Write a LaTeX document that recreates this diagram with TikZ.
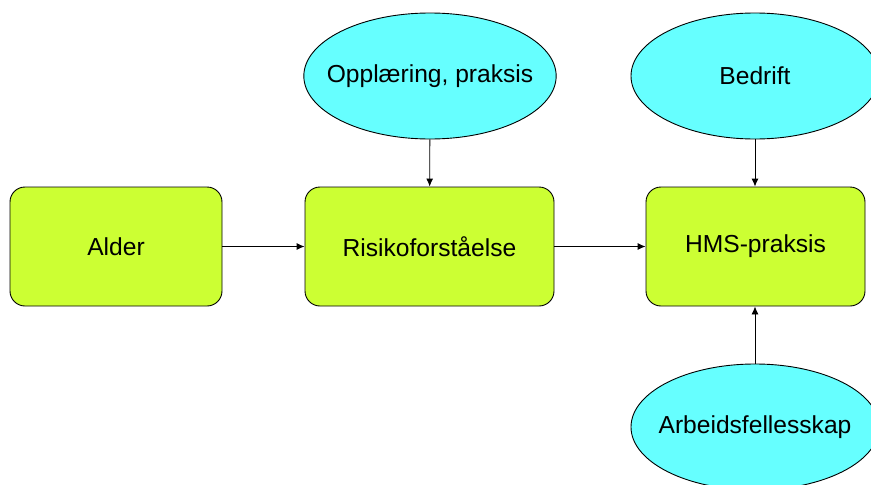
\documentclass[tikz,border=0pt]{standalone}
\usepackage{fontspec}
\setmainfont{Liberation Sans}
\usepackage{xcolor}
\usetikzlibrary{arrows.meta,shapes.geometric}

\definecolor{boxgreen}{RGB}{204,255,51}
\definecolor{ellcyan}{RGB}{102,255,255}

\begin{document}
\begin{tikzpicture}[x=1pt,y=-1pt,line width=0.9pt,
  font=\fontsize{24.6}{28}\selectfont,
  factor/.style={rectangle,rounded corners=15pt,draw,fill=boxgreen,minimum height=119pt,inner sep=0pt},
  context/.style={ellipse,draw,fill=ellcyan,minimum height=126pt,inner ysep=0pt,inner xsep=-14pt},
  link/.style={-{Latex[length=8pt,width=7pt]}}]
\clip (0,0) rectangle (871,485);
\useasboundingbox (0,0) rectangle (871,485);
\node (1) at (116,246.5) [factor,minimum width=212pt] {Alder};
\node (2) at (429.5,246.5) [factor,minimum width=249pt] {Risikoforståelse};
\node (3) at (755.5,246.5) [factor,minimum width=219pt] {HMS-praksis};
\node (4) at (430,76) [context,minimum width=252pt] {Opplæring, praksis};
\node (5) at (755,76) [context,minimum width=248pt] {Bedrift};
\node (6) at (755,427) [context,minimum width=248pt] {Arbeidsfellesskap};
\draw [link] (1) -- (2);
\draw [link] (2) -- (3);
\draw [link] (4) -- (2);
\draw [link] (5) -- (5 |- 3.north);
\draw [link] (6) -- (6 |- 3.south);
\end{tikzpicture}
\end{document}
